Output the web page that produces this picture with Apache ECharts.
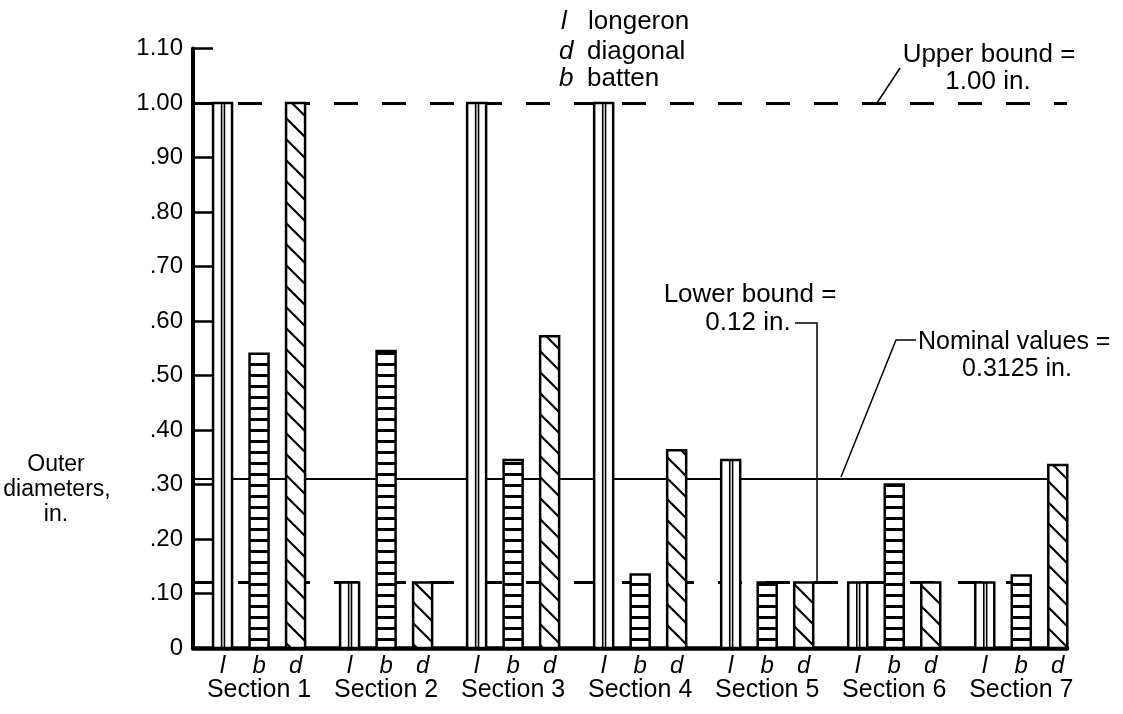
<!DOCTYPE html>
<html>
<head>
<meta charset="utf-8">
<script src="https://cdn.jsdelivr.net/npm/echarts@6/dist/echarts.min.js"></script>
<style>
html,body{margin:0;padding:0;background:#fff;}
#chart{width:1123px;height:714px;}
</style>
</head>
<body>
<div id="chart"></div>
<script>
// ---- data ----
const sections = ['Section 1', 'Section 2', 'Section 3', 'Section 4', 'Section 5', 'Section 6', 'Section 7'];
const memberLetters = ['l', 'b', 'd'];
const longeron = [1.00, 0.12, 1.00, 1.00, 0.345, 0.12, 0.12];
const batten   = [0.54, 0.545, 0.345, 0.135, 0.12, 0.30, 0.133];
const diagonal = [1.00, 0.12, 0.572, 0.363, 0.12, 0.12, 0.336];
const yTickLabels = ['0', '.10', '.20', '.30', '.40', '.50', '.60', '.70', '.80', '.90', '1.00', '1.10'];
const upperBound = 1.00;
const lowerBound = 0.12;
const nominalValue = 0.3125;

// ---- styles ----
const FONT = 'Liberation Sans';
const BAR_FRAC = 19 / 127;
const OFFSETS = [-36.5 / 127, 0, 36.5 / 127];

function battenCanvas() {
  const c = document.createElement('canvas');
  c.width = 8; c.height = 11;
  const g = c.getContext('2d');
  g.fillStyle = '#fff'; g.fillRect(0, 0, 8, 11);
  g.fillStyle = '#000'; g.fillRect(0, 0, 8, 3);
  return c;
}
function diagCanvas() {
  const s = 21;
  const c = document.createElement('canvas');
  c.width = s; c.height = s;
  const g = c.getContext('2d');
  g.fillStyle = '#fff'; g.fillRect(0, 0, s, s);
  g.strokeStyle = '#000'; g.lineWidth = 2.2;
  [-s, 0, s].forEach(function (k) {
    g.beginPath(); g.moveTo(k - 3, -3); g.lineTo(k + s + 3, s + 3); g.stroke();
  });
  return c;
}
const battenPattern = { image: battenCanvas(), repeat: 'repeat' };
const diagPattern = { image: diagCanvas(), repeat: 'repeat' };

function barRender(kind) {
  return function (params, api) {
    const xi = api.value(0), v = api.value(1);
    const band = api.size([1, 0])[0];
    const top = api.coord([xi, v]);
    const base = api.coord([xi, 0]);
    const w = band * BAR_FRAC;
    const cx = top[0] + band * OFFSETS[kind];
    const x0 = cx - w / 2;
    const h = base[1] - top[1];
    const children = [];
    if (kind === 0) {
      children.push({ type: 'rect', shape: { x: x0, y: top[1], width: w, height: h },
        style: { fill: '#fff', stroke: '#000', lineWidth: 2.5 } });
      [0.45, 0.6].forEach(function (f) {
        children.push({ type: 'line', shape: { x1: x0 + w * f, y1: top[1], x2: x0 + w * f, y2: base[1] },
          style: { stroke: '#000', lineWidth: 1.6 } });
      });
    } else {
      children.push({ type: 'rect', shape: { x: x0, y: top[1], width: w, height: h },
        style: { fill: kind === 1 ? battenPattern : diagPattern, stroke: '#000', lineWidth: 2.5 } });
    }
    return { type: 'group', children: children };
  };
}

function seriesData(arr) { return arr.map(function (v, i) { return [i, v]; }); }

const chart = echarts.init(document.getElementById('chart'), null, { renderer: 'canvas' });
const T = function (txt, x, y, size, extra) {
  return { type: 'text', style: Object.assign({ text: txt, x: x, y: y, fill: '#000',
    font: size + 'px "' + FONT + '"', textVerticalAlign: 'middle' }, extra || {}) };
};
const TI = function (txt, x, y, size) {
  return T(txt, x, y, size, { font: 'italic ' + size + 'px "' + FONT + '"' });
};

chart.setOption({
  animation: false,
  backgroundColor: '#fff',
  grid: { left: 193, right: 56, top: 48.5, bottom: 66, containLabel: false },
  xAxis: {
    type: 'value', min: -0.52, max: 6.36,
    axisLine: { show: true, onZero: false, lineStyle: { color: '#000', width: 4.5 } },
    axisTick: { show: false },
    splitLine: { show: false },
    axisLabel: {
      show: true,
      customValues: sections.map(function (s, i) { return i; }),
      margin: 6,
      formatter: function (v) {
        const i = Math.round(v);
        return memberLetters.map(function (m) { return '{i|' + m + '}'; }).join('') + '\n{s|' + sections[i] + '}';
      },
      rich: {
        i: { fontStyle: 'italic', fontFamily: FONT, fontSize: 24, width: 36.5, align: 'center', lineHeight: 24, color: '#000' },
        s: { fontFamily: FONT, fontSize: 25, align: 'center', lineHeight: 24, color: '#000' }
      }
    }
  },
  yAxis: {
    type: 'value', min: 0, max: 1.1, interval: 0.1,
    axisLine: { show: true, onZero: false, lineStyle: { color: '#000', width: 4 } },
    axisTick: { show: true, inside: true, length: 20, lineStyle: { color: '#000', width: 2.5 } },
    splitLine: { show: false },
    axisLabel: {
      margin: 10, color: '#000', fontFamily: FONT, fontSize: 24, padding: [6, 0, 0, 0],
      formatter: function (v, i) { return yTickLabels[i]; }
    }
  },
  series: [
    { type: 'custom', name: 'longeron', z: 10, renderItem: barRender(0), data: seriesData(longeron),
      markLine: {
        silent: true, symbol: ['none', 'none'], label: { show: false }, z: 3, animation: false,
        data: [
          { yAxis: upperBound, lineStyle: { type: [24, 24], dashOffset: 3, width: 3, color: '#000' } },
          { yAxis: lowerBound, lineStyle: { type: [24, 24], dashOffset: 3, width: 3, color: '#000' } },
          { yAxis: nominalValue, lineStyle: { type: 'solid', width: 2, color: '#000' } }
        ]
      }
    },
    { type: 'custom', name: 'batten', z: 10, renderItem: barRender(1), data: seriesData(batten) },
    { type: 'custom', name: 'diagonal', z: 10, renderItem: barRender(2), data: seriesData(diagonal) }
  ],
  graphic: [
    TI('l', 561, 22, 26),
    T('longeron', 588, 22, 26),
    TI('d', 559, 52, 26),
    T('diagonal', 587, 52, 26),
    TI('b', 559, 79, 26),
    T('batten', 587, 79, 26),
    T('Upper bound =', 989, 55, 26, { textAlign: 'center' }),
    T('1.00 in.', 988, 82, 26, { textAlign: 'center' }),
    { type: 'line', shape: { x1: 900, y1: 68, x2: 877, y2: 103 }, style: { stroke: '#000', lineWidth: 1.5 } },
    T('Lower bound =', 750, 295, 26, { textAlign: 'center' }),
    T('0.12 in.', 748, 323, 26, { textAlign: 'center' }),
    { type: 'polyline', shape: { points: [[795, 323], [817, 323], [817, 582]] }, style: { stroke: '#000', lineWidth: 1.5, fill: null } },
    T('Nominal values =', 918, 342, 25, { textAlign: 'left' }),
    T('0.3125 in.', 1017, 369, 25, { textAlign: 'center' }),
    { type: 'polyline', shape: { points: [[916, 340], [896, 340], [841, 477]] }, style: { stroke: '#000', lineWidth: 1.5, fill: null } },
    T('Outer', 56, 465, 23, { textAlign: 'center' }),
    T('diameters,', 57, 490, 23, { textAlign: 'center' }),
    T('in.', 56, 515, 23, { textAlign: 'center' })
  ]
});
</script>
</body>
</html>
